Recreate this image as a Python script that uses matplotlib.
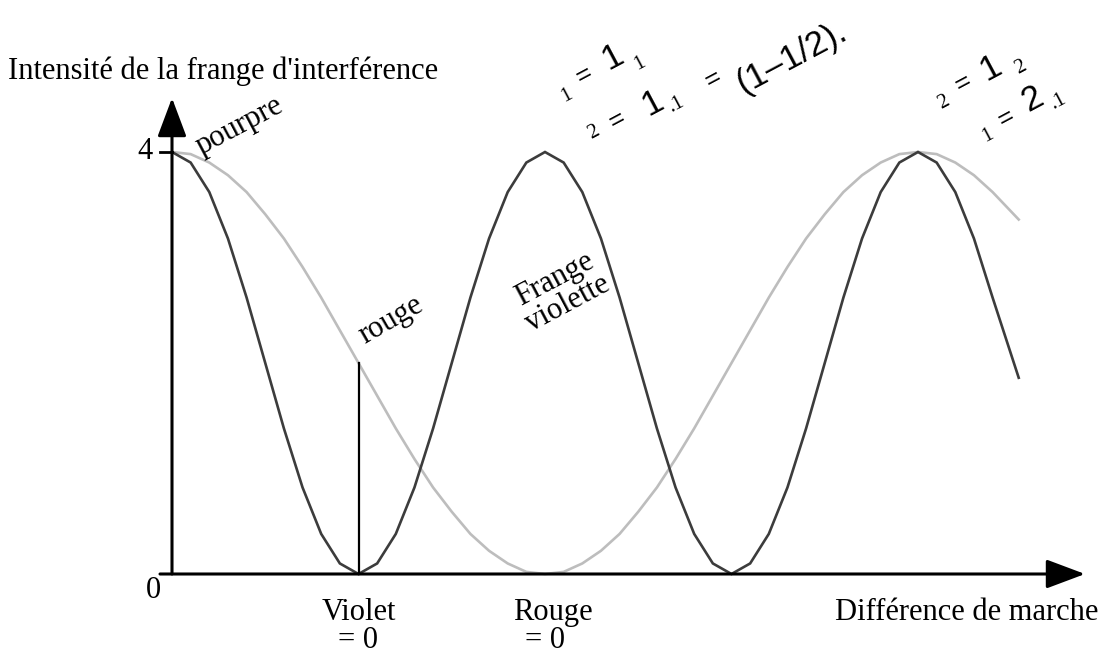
import matplotlib
matplotlib.use("Agg")
import matplotlib.pyplot as plt

# Path difference (arbitrary units: violet extinction at 1, red extinction at 2)
delta = [0.0, 0.1, 0.2, 0.3, 0.4, 0.5, 0.6, 0.7, 0.8, 0.9,
         1.0, 1.1, 1.2, 1.3, 1.4, 1.5, 1.6, 1.7, 1.8, 1.9,
         2.0, 2.1, 2.2, 2.3, 2.4, 2.5, 2.6, 2.7, 2.8, 2.9,
         3.0, 3.1, 3.2, 3.3, 3.4, 3.5, 3.6, 3.7, 3.8, 3.9,
         4.0, 4.1, 4.2, 4.3, 4.4, 4.54]

# Fringe intensity for violet light (dark curve)
violet_intensity = [4.00, 3.90, 3.62, 3.18, 2.62, 2.00, 1.38, 0.82, 0.38, 0.10,
                    0.00, 0.10, 0.38, 0.82, 1.38, 2.00, 2.62, 3.18, 3.62, 3.90,
                    4.00, 3.90, 3.62, 3.18, 2.62, 2.00, 1.38, 0.82, 0.38, 0.10,
                    0.00, 0.10, 0.38, 0.82, 1.38, 2.00, 2.62, 3.18, 3.62, 3.90,
                    4.00, 3.90, 3.62, 3.18, 2.62, 1.86]

# Fringe intensity for red light (light curve)
red_intensity = [4.00, 3.98, 3.90, 3.78, 3.62, 3.41, 3.18, 2.91, 2.62, 2.31,
                 2.00, 1.69, 1.38, 1.09, 0.82, 0.59, 0.38, 0.22, 0.10, 0.02,
                 0.00, 0.02, 0.10, 0.22, 0.38, 0.59, 0.82, 1.09, 1.38, 1.69,
                 2.00, 2.31, 2.62, 2.91, 3.18, 3.41, 3.62, 3.78, 3.90, 3.98,
                 4.00, 3.98, 3.90, 3.78, 3.62, 3.36]

y_ticks = [0, 4]
y_tick_labels = ["0", "4"]
violet_zero = 1.0
red_zero = 2.0

W, H = 1118, 654
fig = plt.figure(figsize=(W / 100, H / 100), dpi=100)
ax = fig.add_axes([0, 0, 1, 1])
ax.axis("off")

# Data-to-pixel layout: origin at pixel (172, 574)
X0, XS = 172.0, 186.5
Y0, YS = 574.0, 105.5
ax.set_xlim(-X0 / XS, (W - X0) / XS)
ax.set_ylim(-(H - Y0) / YS, Y0 / YS)

SERIF = ["Liberation Serif", "DejaVu Serif"]
SANS = ["Liberation Sans", "DejaVu Sans"]
FS = 22


def ptext(x, y, s, size, family=SERIF, rot=0, ha="center", va="center", **kw):
    fig.text(x / W, 1 - y / H, s, fontsize=size, family=family, rotation=rot,
             rotation_mode="anchor", ha=ha, va=va, color="black", **kw)


# Curves
ax.plot(delta, red_intensity, color="#bdbdbd", lw=1.9, solid_joinstyle="miter", zorder=2)
ax.plot(delta, violet_intensity, color="#3c3c3c", lw=1.9, solid_joinstyle="miter", zorder=3)

# Axes with arrow heads
arrow = dict(arrowstyle="-|>,head_length=0.8,head_width=0.3", color="black",
             lw=2.2, shrinkA=0, shrinkB=0, mutation_scale=30)
ax.annotate("", xy=(0, (Y0 - 98) / YS), xytext=(0, 0), arrowprops=arrow, zorder=5)
ax.annotate("", xy=((1085 - X0) / XS, 0), xytext=(-12 / XS, 0), arrowprops=arrow, zorder=5)

# Tick at the top value
ax.plot([-12 / XS, 0], [y_ticks[1], y_ticks[1]], color="black", lw=2.0, zorder=5)

# Vertical marker: red intensity where violet is extinguished
i_v = delta.index(violet_zero)
ax.plot([violet_zero, violet_zero], [0, red_intensity[i_v]], color="black", lw=1.6, zorder=4)

# Tick labels
ax.text(-19 / XS, y_ticks[1], y_tick_labels[1], fontsize=FS, family=SERIF,
        ha="right", va="center")
ax.text(-19 / XS, -17 / YS, y_tick_labels[0], fontsize=FS, family=SERIF,
        ha="center", va="center")

# Axis titles
ptext(8, 79, "Intensité de la frange d'interférence", FS, ha="left", va="baseline")
ptext(835, 620, "Différence de marche", FS, ha="left", va="baseline")

# Labels under the x axis
ax.text(violet_zero, -46 / YS, "Violet", fontsize=FS, family=SERIF, ha="center", va="baseline")
ax.text(violet_zero, -74 / YS, "= 0", fontsize=FS, family=SERIF, ha="center", va="baseline")
ax.text(red_zero + 8 / XS, -46 / YS, "Rouge", fontsize=FS, family=SERIF, ha="center", va="baseline")
ax.text(red_zero, -74 / YS, "= 0", fontsize=FS, family=SERIF, ha="center", va="baseline")

# Rotated labels on the curves
ptext(240, 126, "pourpre", FS, rot=28)
ptext(391, 320, "rouge", FS, rot=30)
ptext(561, 292, "Frange\nviolette", FS, rot=28, linespacing=0.95)

# Relations between wavelengths and path differences
R = 28
SM, EQ, BG = 15, 19, 25
ptext(567, 96, "1", SM, rot=R)
ptext(584, 75, "=", EQ, family=SANS, rot=R)
ptext(612, 57, "1", BG, family=SANS, rot=R)
ptext(640, 64, "1", SM, rot=R)

ptext(594, 133, "2", SM, rot=R)
ptext(617, 120, "=", EQ, family=SANS, rot=R)
ptext(652, 103, "1", BG, family=SANS, rot=R)
ptext(676, 104, ".1", SM, rot=R)
ptext(713, 79, "=", EQ, family=SANS, rot=R)
ptext(792, 57, "(1\u20131/2).", BG, family=SANS, rot=R)

ptext(944, 103, "2", SM, rot=R)
ptext(963, 83, "=", EQ, family=SANS, rot=R)
ptext(990, 68, "1", BG, family=SANS, rot=R)
ptext(1021, 68, "2", SM, rot=R)

ptext(988, 136, "1", SM, rot=R)
ptext(1006, 118, "=", EQ, family=SANS, rot=R)
ptext(1032, 99, "2", BG, family=SANS, rot=R)
ptext(1058, 101, ".1", SM, rot=R)

fig.savefig("out.png", dpi=100)
